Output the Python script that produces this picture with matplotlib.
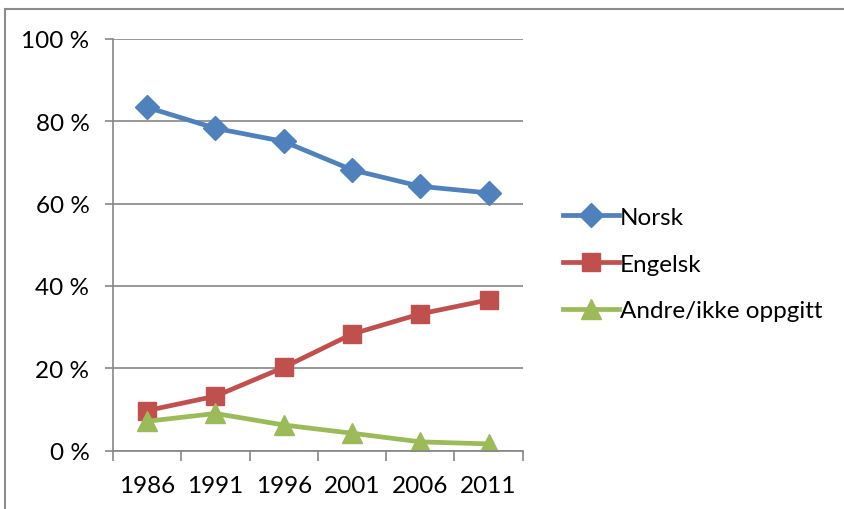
import matplotlib.pyplot as plt
from matplotlib.patches import Rectangle
import numpy as np

plt.rcParams['font.family'] = ['Lato', 'DejaVu Sans']

# andel (%) etter språk
years = ['1986', '1991', '1996', '2001', '2006', '2011']
norsk = [83.4, 78.3, 75.1, 68.2, 64.2, 62.6]
engelsk = [9.7, 13.2, 20.2, 28.3, 33.2, 36.6]
andre = [7.1, 9.0, 6.2, 4.2, 2.1, 1.6]
series_names = ['Norsk', 'Engelsk', 'Andre/ikke oppgitt']
yticks = [0, 20, 40, 60, 80, 100]

grey = '#868686'
fs = 17.5
fig = plt.figure(figsize=(8.44, 5.10), dpi=100)
ax = fig.add_axes([113 / 844, 1 - 451.5 / 510, (522.7 - 113) / 844, (451.5 - 40) / 510])

x = np.arange(len(years))
ax.plot(x, norsk, color='#4F81BD', lw=3.4, marker='D', ms=12, label=series_names[0])
ax.plot(x, engelsk, color='#C0504D', lw=3.4, marker='s', ms=12.5, label=series_names[1])
ax.plot(x, andre, color='#9BBB59', lw=3.4, marker='^', ms=15, label=series_names[2])

ax.set_xlim(-0.5, len(years) - 0.5)
ax.set_ylim(0, 100)
ax.set_yticks(yticks)
ax.set_yticklabels([f'{v} %' for v in yticks])
ax.set_xticks(x)
ax.set_xticklabels(years)
ax.set_xticks(np.arange(len(years) + 1) - 0.5, minor=True)

ax.grid(axis='y', color=grey, lw=1.2)
ax.set_axisbelow(True)
for side in ['top', 'right']:
    ax.spines[side].set_visible(False)
for side in ['left', 'bottom']:
    ax.spines[side].set_color(grey)
    ax.spines[side].set_linewidth(1.2)

ax.tick_params(axis='y', length=6, color=grey, width=1.2, labelsize=fs, pad=11)
ax.tick_params(axis='x', which='major', length=0, labelsize=fs, pad=18)
ax.tick_params(axis='x', which='minor', length=7, color=grey, width=1.2)

leg = ax.legend(loc='center left', bbox_to_anchor=(553 / 844, 1 - 265 / 510),
                bbox_transform=fig.transFigure, frameon=False, fontsize=fs,
                handlelength=2.3, handletextpad=0.05, labelspacing=1.05,
                borderaxespad=0)

fig.patches.append(Rectangle((5 / 844, -0.1), 1.2, 1.1 - 10 / 510,
                             transform=fig.transFigure, fill=False,
                             edgecolor='#8c8c8c', lw=1.5))

fig.savefig('out.png', dpi=100)
